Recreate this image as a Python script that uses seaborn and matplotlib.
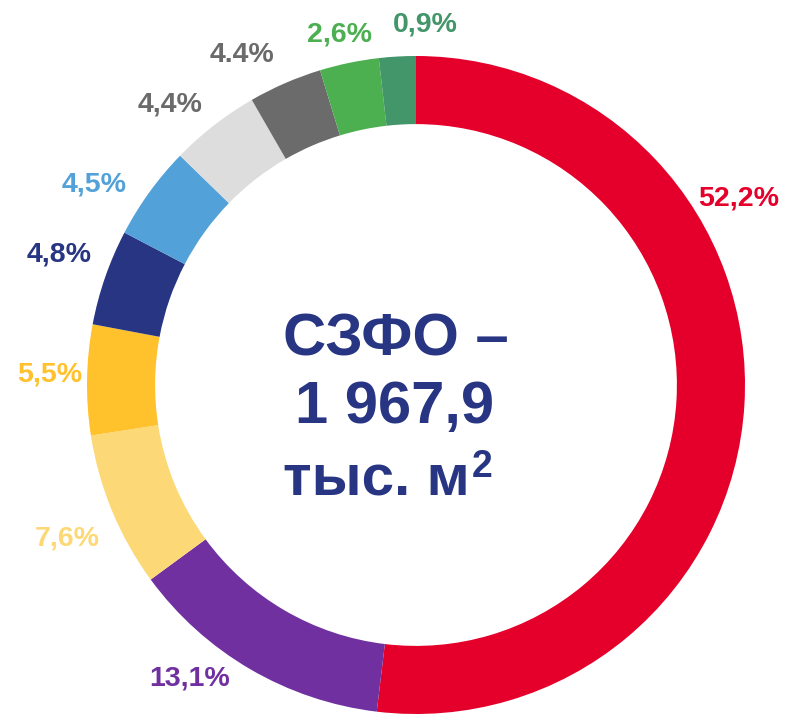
import matplotlib
matplotlib.use("Agg")
import matplotlib.pyplot as plt
import seaborn as sns

# размеры секторов, как они нарисованы (%), по часовой стрелке от верха
slice_sizes = [51.8, 13.0, 7.6, 5.4, 4.7, 4.6, 4.4, 3.6, 2.9, 1.8]
# подписи долей
labels = ["52,2%", "13,1%", "7,6%", "5,5%", "4,8%", "4,5%", "4,4%", "4.4%", "2,6%", "0,9%"]
slice_colors = ["#E4002B", "#7030A0", "#FCD976", "#FFC12C", "#283583",
                "#52A1D8", "#DDDDDD", "#6B6B6B", "#4CAF50", "#43956A"]
label_colors = ["#E4002B", "#7030A0", "#FCD976", "#FFC12C", "#283583",
                "#52A1D8", "#6B6B6B", "#6B6B6B", "#4CAF50", "#43956A"]
center_lines = ["СЗФО –", "1 967,9", "тыс. м"]
center_sup = "2"

# положения подписей в пикселях картинки (x, y сверху)
label_pos = [(739, 199), (190, 679), (67, 538), (50, 374), (59, 254),
             (94, 184), (170, 104), (242, 55), (339, 35), (425, 25)]

W, H = 785, 714
sns.set_theme(style="white")
plt.rcParams["font.family"] = ["Liberation Sans", "DejaVu Sans"]

fig = plt.figure(figsize=(W / 100, H / 100), dpi=100)
ax = fig.add_axes([0, 0, 1, 1])

pal = sns.color_palette(slice_colors)
cx, cy, r = 416, H - 385, 329
ax.pie(slice_sizes, colors=pal, startangle=90, counterclock=False,
       center=(cx, cy), radius=r, frame=True,
       wedgeprops=dict(width=r * 0.207, linewidth=0))
ax.set_xlim(0, W)
ax.set_ylim(0, H)
ax.set_aspect("equal")
ax.axis("off")

for txt, col, (x, y) in zip(labels, label_colors, label_pos):
    ax.text(x, H - y, txt, color=col, fontsize=20.5, fontweight="bold",
            ha="center", va="center")

navy = "#283583"
ax.text(396, H - 355, center_lines[0], color=navy, fontsize=43, fontweight="bold",
        ha="center", va="baseline")
ax.text(395, H - 423, center_lines[1], color=navy, fontsize=43, fontweight="bold",
        ha="center", va="baseline")
ax.text(470, H - 495, center_lines[2], color=navy, fontsize=42, fontweight="bold",
        ha="right", va="baseline")
ax.text(472, H - 477, center_sup, color=navy, fontsize=27, fontweight="bold",
        ha="left", va="baseline")

fig.savefig("out.png", dpi=100)
